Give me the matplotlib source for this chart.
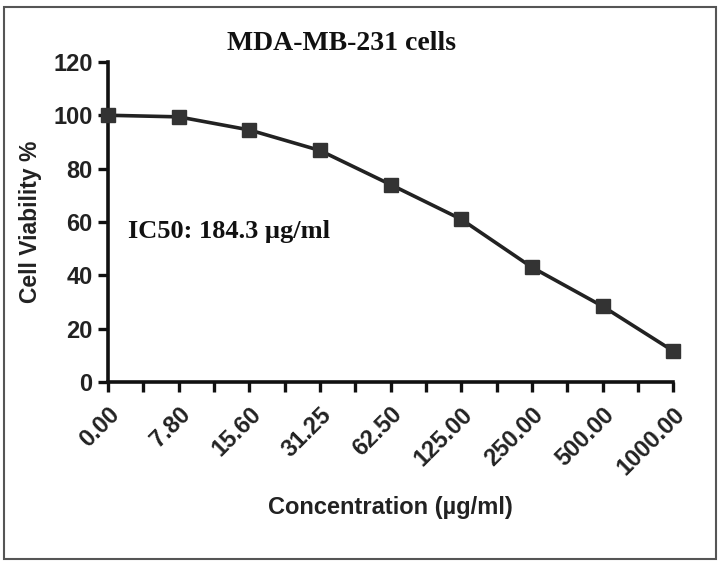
import matplotlib
matplotlib.use("Agg")
import matplotlib.pyplot as plt
from matplotlib.patches import Rectangle
import numpy as np

concentrations = ["0.00", "7.80", "15.60", "31.25", "62.50", "125.00", "250.00", "500.00", "1000.00"]
viability = [100, 99.4, 94.5, 86.8, 74, 61, 43, 28.4, 11.6]
y_ticks = [0, 20, 40, 60, 80, 100, 120]

fig = plt.figure(figsize=(7.2, 5.68), dpi=100)
fig.patches.append(Rectangle((0.006, 0.015), 0.988, 0.972, transform=fig.transFigure,
                             fill=False, edgecolor="#555555", linewidth=1.5))

ax = fig.add_axes([0.15, 0.3275, 0.785, 0.5635])
x = np.arange(len(concentrations))
ax.plot(x, viability, color="#222222", linewidth=2.6, marker="s", markersize=10,
        markerfacecolor="#333333", markeredgecolor="#333333", clip_on=False, zorder=3)

ax.set_xlim(0, len(concentrations) - 1)
ax.set_ylim(0, 120)
ax.set_yticks(y_ticks)
ax.set_yticklabels([str(v) for v in y_ticks], fontsize=17, fontweight="bold",
                   family="Liberation Sans", color="#222222")
ax.set_xticks(x)
ax.set_xticks(np.arange(0.5, len(concentrations) - 1, 1.0), minor=True)
ax.set_xticklabels(concentrations, rotation=45, ha="right", va="top",
                   rotation_mode="anchor", fontsize=17, fontweight="bold",
                   family="Liberation Sans", color="#222222")
ax.tick_params(axis="x", which="both", direction="out", length=7, width=2.4, color="#111111", pad=8)
ax.tick_params(axis="y", direction="out", length=7, width=2.4, color="#111111", pad=4)

for side in ("top", "right"):
    ax.spines[side].set_visible(False)
for side in ("left", "bottom"):
    ax.spines[side].set_linewidth(2.6)
    ax.spines[side].set_color("#111111")

ax.set_ylabel("Cell Viability %", fontsize=16.5, fontweight="bold", family="Liberation Sans",
              color="#222222", labelpad=8)
ax.set_xlabel("Concentration (µg/ml)", fontsize=17, fontweight="bold", family="Liberation Sans",
              color="#222222", labelpad=12)

fig.text(0.474, 0.924, "MDA-MB-231 cells", fontsize=20, fontweight="bold",
         family="Liberation Serif", ha="center", va="center", color="#111111")
ax.text(0.035, 0.469, "IC50: 184.3 µg/ml", transform=ax.transAxes, fontsize=19,
        fontweight="bold", family="Liberation Serif", ha="left", va="center", color="#111111")

fig.savefig("out.png", dpi=100)
